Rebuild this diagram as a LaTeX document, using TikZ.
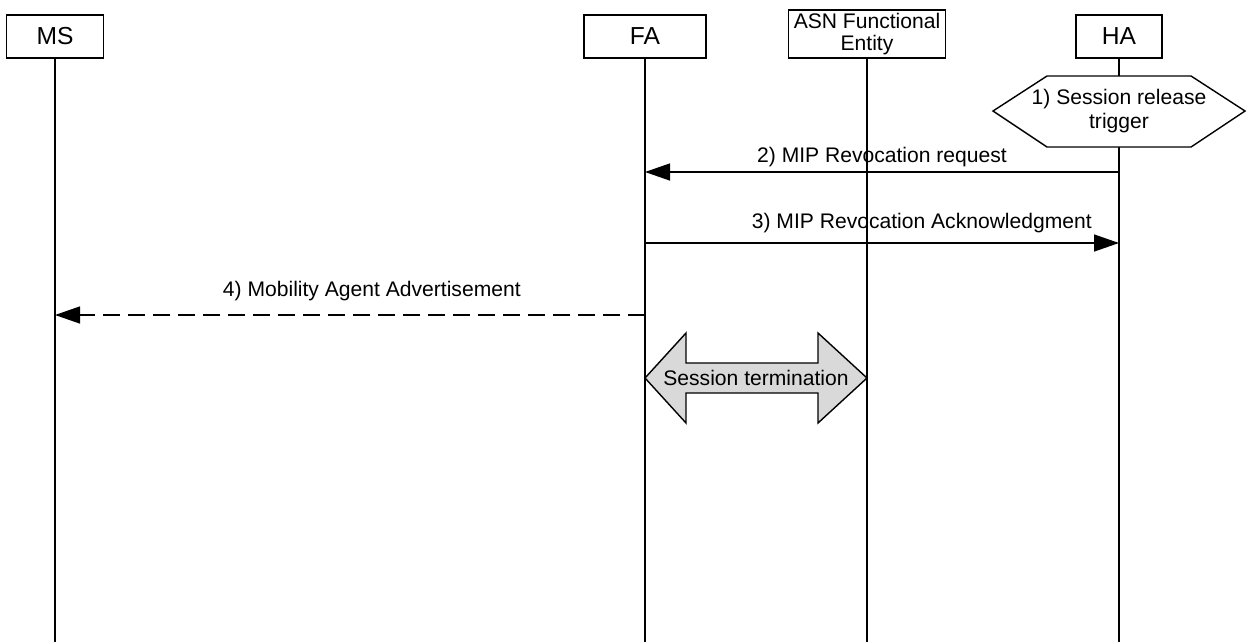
\documentclass[tikz,border=0pt]{standalone}
\usepackage{fontspec}
\setmainfont{Liberation Sans}
\usetikzlibrary{arrows.meta,positioning,calc}
\definecolor{termfill}{HTML}{D9D9D9}

\begin{document}
\begin{tikzpicture}[
    entity/.style={draw, line width=0.8pt, minimum height=0.86cm, inner sep=0pt,
                   font=\fontsize{14}{16}\selectfont, align=center},
    lifeline/.style={line width=0.8pt},
    msg/.style={-{Triangle[length=5mm, width=3.4mm]}, line width=0.8pt},
    dmsg/.style={msg, dash pattern=on 3.4mm off 1.6mm},
    lbl/.style={font=\fontsize{12}{14}\selectfont, inner sep=0pt, anchor=south},
    trigger/.style={draw, fill=white, line width=0.8pt},
    termarrow/.style={draw, fill=termfill, line width=0.8pt}
]
\useasboundingbox (0,0) rectangle (24.98,-12.84);

% Entities
\node[entity, minimum width=1.94cm] (ms)  at (1.1,-0.73)   {MS};
\node[entity, minimum width=2.44cm] (fa)  at (12.9,-0.73)  {FA};
\node[entity, minimum width=3.14cm, minimum height=0.96cm,
      font=\fontsize{12}{13}\selectfont] (asn) at (17.34,-0.68) {ASN Functional\\Entity};
\node[entity, minimum width=1.72cm] (ha)  at (22.38,-0.73) {HA};

% Lifelines
\foreach \e in {ms,fa,asn,ha} {
  \coordinate (\e end) at (\e |- 0,-12.84);
  \draw[lifeline] (\e.south) -- (\e end);
}

% 1) Session release trigger
\coordinate (trg) at (ha |- 0,-2.22);
\draw[trigger] ($(trg)+(-2.52,0)$) -- ++(1.08,0.7) -- ++(2.88,0) -- ++(1.08,-0.7)
               -- ++(-1.08,-0.72) -- ++(-2.88,0) -- cycle;
\node[font=\fontsize{12}{13.5}\selectfont, align=center] (trgtxt) at (trg)
     {1) Session release\\trigger};

% Messages
\coordinate (ha2) at (ha |- 0,-3.44);
\coordinate (fa2) at (fa |- 0,-3.44);
\draw[msg] (ha2) -- (fa2) node[lbl, pos=0.5, yshift=0.09cm] (m2) {2) MIP Revocation request};

\coordinate (fa3) at (fa |- 0,-4.86);
\coordinate (ha3) at (ha |- 0,-4.86);
\draw[msg] (fa3) -- (ha3) node[lbl, pos=0.584, yshift=0.18cm] (m3) {3) MIP Revocation Acknowledgment};

\coordinate (fa4) at (fa |- 0,-6.3);
\coordinate (ms4) at (ms |- 0,-6.3);
\draw[dmsg] (fa4) -- (ms4) node[lbl, pos=0.463, yshift=0.26cm] (m4) {4) Mobility Agent Advertisement};

% Session termination
\coordinate (tl) at (fa |- 0,-7.56);
\coordinate (tr) at (asn |- 0,-7.56);
\draw[termarrow] (tl) -- ++(0.82,0.9) -- ++(0,-0.6) -- ($(tr)+(-0.98,0.3)$) -- ++(0,0.6)
   -- (tr) -- ++(-0.98,-0.9) -- ++(0,0.6) -- ($(tl)+(0.82,-0.3)$) -- ++(0,-0.6) -- cycle;
\node[font=\fontsize{12}{14}\selectfont, inner sep=0pt] (term) at ($(tl)!0.5!(tr)$) {Session termination};

\end{tikzpicture}
\end{document}
